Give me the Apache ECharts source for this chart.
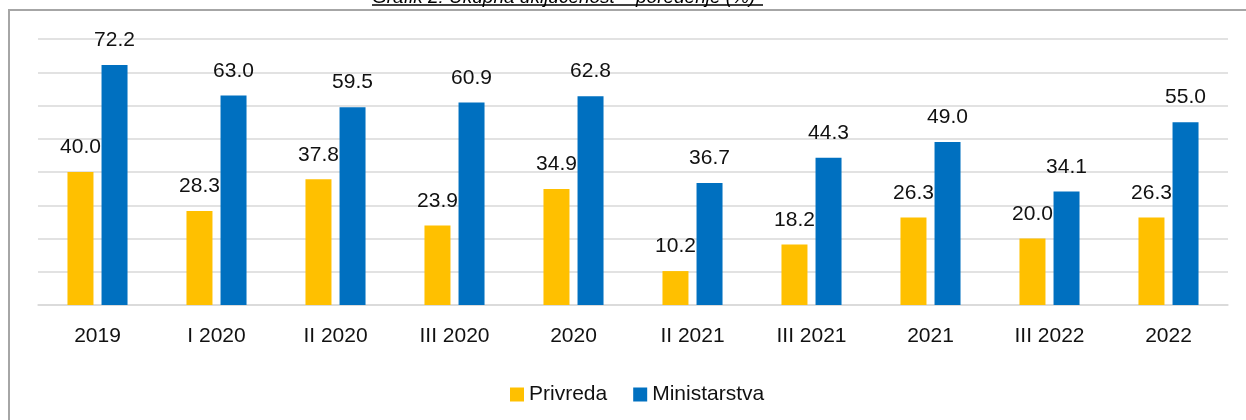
<!DOCTYPE html>
<html>
<head>
<meta charset="utf-8">
<script src="https://cdn.jsdelivr.net/npm/echarts@6/dist/echarts.min.js"></script>
<style>
  html, body { margin: 0; padding: 0; background: #fff; }
  #container { width: 1246px; height: 420px; }
</style>
</head>
<body>
<div id="container"></div>
<script>
// chart data
var categories = ['2019', 'I 2020', 'II 2020', 'III 2020', '2020', 'II 2021', 'III 2021', '2021', 'III 2022', '2022'];
var privreda = [40.0, 28.3, 37.8, 23.9, 34.9, 10.2, 18.2, 26.3, 20.0, 26.3];
var ministarstva = [72.2, 63.0, 59.5, 60.9, 62.8, 36.7, 44.3, 49.0, 34.1, 55.0];
var titleText = 'Grafik 2: Ukupna uključenost – poređenje (%)';

var fontName = 'Liberation Sans';

function barLabel() {
    return {
        show: true,
        position: 'top',
        distance: 14,
        fontFamily: fontName,
        fontSize: 21,
        color: '#111',
        formatter: function (p) { return p.value.toFixed(1); }
    };
}

var myChart = echarts.init(document.getElementById('container'), null, { renderer: 'canvas' });

var option = {
    animation: false,
    backgroundColor: '#fff',
    textStyle: { fontFamily: fontName },
    graphic: [
        // chart frame (only top and left edges are visible)
        {
            type: 'rect',
            shape: { x: 9, y: 10, width: 1300, height: 500 },
            style: { fill: 'none', stroke: '#a6a6a6', lineWidth: 2 },
            z: 0
        },
        {
            type: 'text',
            style: {
                text: titleText,
                x: 372,
                y: 7,
                verticalAlign: 'bottom',
                font: 'italic 19px "Liberation Sans"',
                fill: '#000'
            },
            z: 10
        },
        {
            type: 'line',
            shape: { x1: 372, y1: 5, x2: 763, y2: 5 },
            style: { stroke: '#000', lineWidth: 1.5 },
            z: 10
        }
    ],
    legend: {
        left: 505,
        top: 379,
        icon: 'rect',
        itemWidth: 14,
        itemHeight: 14,
        itemGap: 26,
        textStyle: { fontFamily: fontName, fontSize: 21, color: '#111' },
        data: ['Privreda', 'Ministarstva']
    },
    grid: { left: 38, right: 18, top: 39, bottom: 115 },
    xAxis: {
        type: 'category',
        data: categories,
        axisLine: { lineStyle: { color: '#d9d9d9', width: 1.5 } },
        axisTick: { show: false },
        axisLabel: { margin: 21, fontFamily: fontName, fontSize: 21, color: '#111' }
    },
    yAxis: {
        type: 'value',
        min: 0,
        max: 80,
        interval: 10,
        axisLabel: { show: false },
        axisLine: { show: false },
        axisTick: { show: false },
        splitLine: { lineStyle: { color: '#d9d9d9', width: 1.5 } }
    },
    series: [
        {
            name: 'Privreda',
            type: 'bar',
            data: privreda,
            barWidth: 26,
            barGap: '31%',
            itemStyle: { color: '#FFC000' },
            label: barLabel()
        },
        {
            name: 'Ministarstva',
            type: 'bar',
            data: ministarstva,
            barWidth: 26,
            barGap: '31%',
            itemStyle: { color: '#0070C0' },
            label: barLabel()
        }
    ]
};

myChart.setOption(option);
</script>
</body>
</html>
